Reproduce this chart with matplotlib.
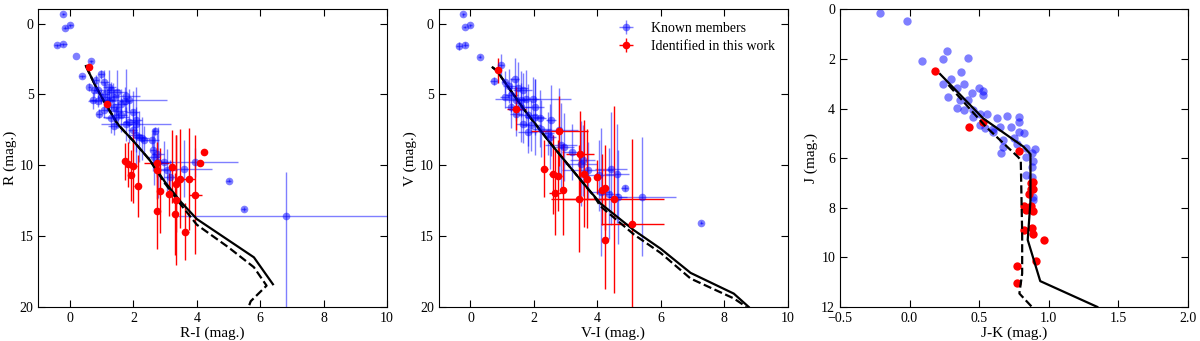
import numpy as np
import matplotlib
matplotlib.use('Agg')
from matplotlib import pyplot as plt

plt.rcParams['font.family'] = ['Liberation Serif', 'DejaVu Serif']
plt.rcParams['mathtext.fontset'] = 'stix'

# ---- panel 1: R vs R-I ----
r_known_x = [-0.21, -0.15, 0.0, -0.41, -0.21, 0.19, 0.66, 0.38, 0.6, 0.82, 0.97, 1.08, 1.24, 1.29, 1.48,
             1.76, 0.97, 0.87, 1.18, 1.39, 1.5, 0.92, 1.08, 1.29, 1.45, 2.07, 1.39, 1.76, 1.97, 2.07,
             1.97, 2.07, 2.18, 2.28, 2.33, 2.6, 2.67, 2.62, 2.65, 2.96, 2.77, 3.59, 3.93, 5.0, 5.48,
             6.8, 0.76, 0.71, 1.24, 1.6, 0.87, 1.1, 1.34, 1.6, 1.86, 1.73, 3.07, 3.15, 2.75, 1.85]
r_known_y = [-0.66, 0.28, 0.12, 1.53, 1.46, 2.28, 2.66, 3.72, 4.47, 4.0, 3.58, 4.1, 4.5, 4.7, 4.8,
             5.1, 5.2, 5.5, 5.4, 5.9, 6.2, 6.35, 6.1, 6.7, 6.6, 7.06, 7.2, 7.06, 6.24, 6.8,
             7.5, 7.9, 8.0, 8.1, 8.2, 8.2, 7.6, 8.94, 9.4, 9.8, 9.8, 10.24, 9.8, 11.08, 13.08,
             13.6, 4.7, 5.4, 5.5, 5.65, 4.7, 4.94, 5.18, 6.47, 6.94, 5.48, 10.35, 10.8, 9.2, 5.4]
r_known_xerr = [0.05, 0.08, 0.08, 0.1, 0.1, 0.0, 0.05, 0.1, 0.05, 0.1, 0.1, 0.15, 0.2, 0.3, 0.3,
                0.45, 0.1, 0.3, 0.2, 0.2, 0.3, 0.1, 0.2, 0.2, 0.4, 1.1, 0.2, 0.2, 0.2, 0.2,
                0.15, 0.2, 0.15, 0.2, 0.1, 0.2, 0.1, 0.1, 0.2, 0.3, 0.2, 0.9, 1.36, 0.08, 0.08,
                3.4, 0.1, 0.1, 0.2, 0.2, 0.1, 0.15, 0.2, 0.2, 0.2, 0.2, 0.3, 0.2, 0.2, 1.2]
r_known_yerr_up = [0.05, 0.1, 0.1, 0.1, 0.1, 0.0, 0.1, 0.1, 0.3, 0.4, 0.3, 0.8, 1.2, 0.6, 1.5,
                   1.9, 0.5, 0.4, 0.8, 1.0, 1.2, 0.3, 0.6, 1.0, 0.8, 0.8, 0.7, 1.2, 1.5, 2.3,
                   1.5, 2.0, 1.8, 1.5, 1.0, 0.5, 0.3, 1.5, 2.0, 1.5, 2.5, 2.0, 1.0, 0.1, 0.15,
                   3.1, 0.5, 0.6, 0.8, 1.0, 0.5, 0.8, 1.0, 1.2, 1.5, 1.0, 1.5, 1.2, 1.5, 0.8]
r_known_yerr_dn = [0.05, 0.1, 0.1, 0.1, 0.1, 0.0, 0.1, 0.1, 0.3, 0.4, 0.3, 0.8, 1.2, 0.6, 1.5,
                   1.9, 0.5, 0.4, 0.8, 1.0, 1.2, 0.3, 0.6, 1.0, 0.8, 0.8, 0.7, 1.2, 1.5, 2.3,
                   1.5, 2.0, 1.8, 1.5, 1.0, 0.5, 0.3, 1.5, 2.0, 1.5, 2.5, 2.0, 1.0, 0.1, 0.15,
                   7.0, 0.5, 0.6, 0.8, 1.0, 0.5, 0.8, 1.0, 1.2, 1.5, 1.0, 1.5, 1.2, 1.5, 0.8]

r_new_x = [0.61, 1.16, 4.24, 4.09, 3.95, 1.73, 1.84, 1.97, 1.92, 2.13, 2.73, 2.75, 2.84, 2.75,
           3.23, 3.12, 3.33, 3.47, 3.3, 3.35, 3.75, 3.64]
r_new_y = [3.06, 5.65, 9.06, 9.84, 12.1, 9.72, 9.93, 10.05, 10.7, 11.46, 9.81, 10.35, 11.8, 13.2,
           10.1, 12.05, 11.3, 10.94, 13.46, 12.47, 11.0, 14.7]
r_new_xerr = [0.05, 0.05, 0.05, 0.05, 0.2, 0.1, 0.1, 0.15, 0.1, 0.1, 0.4, 0.1, 0.1, 0.1,
              0.1, 0.1, 0.1, 0.1, 0.1, 0.1, 0.2, 0.1]
r_new_yerr = [0.1, 0.1, 0.1, 0.1, 4.2, 1.3, 1.6, 2.6, 1.8, 2.2, 1.0, 2.0, 3.0, 2.7,
              2.6, 1.5, 3.4, 3.5, 2.9, 4.6, 3.6, 2.0]

r_iso_x = [0.5, 0.8, 1.1, 1.5, 2.0, 2.5, 3.0, 3.5, 4.0, 5.0, 5.8, 6.4]
r_iso_y = [3.0, 4.4, 5.6, 7.1, 8.3, 9.6, 11.2, 12.6, 13.8, 15.3, 16.5, 18.4]
r_iso2_x = [0.5, 0.8, 1.1, 1.5, 2.0, 2.5, 3.0, 3.5, 4.0, 5.0, 5.8, 6.2, 5.7, 5.6]
r_iso2_y = [3.0, 4.4, 5.6, 7.1, 8.3, 9.6, 11.3, 12.8, 14.2, 15.8, 17.2, 18.5, 19.6, 20.2]

# ---- panel 2: V vs V-I ----
v_known_x = [-0.23, -0.18, 0.0, -0.36, -0.16, 0.29, 0.97, 0.73, 1.08, 1.23, 1.39, 1.5, 1.65, 1.29,
             1.08, 1.45, 1.76, 1.97, 2.02, 1.6, 1.29, 1.45, 1.81, 2.02, 2.18, 1.91, 1.65, 2.23,
             2.44, 2.54, 2.51, 2.8, 2.85, 2.96, 3.19, 3.48, 3.54, 3.69, 4.06, 4.42, 4.61, 4.11,
             4.37, 4.65, 4.86, 5.42, 7.28, 1.81, 1.6]
v_known_y = [-0.66, 0.24, 0.12, 1.58, 1.48, 2.35, 2.94, 4.05, 4.12, 4.42, 3.93, 4.52, 4.7, 5.06,
             5.18, 5.41, 5.3, 5.3, 5.88, 5.88, 5.88, 6.35, 6.47, 6.59, 6.7, 7.18, 7.06, 7.41,
             7.76, 6.82, 8.0, 7.53, 8.59, 8.7, 9.06, 9.88, 9.65, 10.35, 10.7, 10.24, 10.59, 11.88,
             12.0, 12.24, 11.6, 12.24, 14.05, 7.65, 5.41]
v_known_xerr = [0.05, 0.05, 0.05, 0.1, 0.08, 0.05, 0.1, 0.1, 0.1, 0.2, 0.15, 0.3, 0.3, 0.2,
                0.15, 0.3, 0.4, 1.2, 0.3, 0.3, 0.2, 0.2, 0.3, 0.3, 0.2, 0.3, 0.2, 0.3,
                0.2, 0.15, 0.2, 0.6, 0.5, 0.3, 0.3, 0.5, 0.4, 0.8, 0.5, 0.5, 0.4, 0.3,
                0.3, 0.3, 0.1, 1.05, 0.05, 0.3, 0.2]
v_known_yerr = [0.1, 0.1, 0.1, 0.3, 0.2, 0.1, 0.8, 0.3, 0.8, 1.2, 1.5, 1.8, 1.2, 1.2,
                0.8, 1.5, 2.0, 1.5, 2.0, 2.5, 1.5, 1.6, 2.2, 2.7, 2.0, 1.8, 1.4, 2.0,
                1.5, 2.5, 2.3, 3.0, 3.0, 2.4, 2.0, 3.0, 2.5, 2.0, 2.5, 4.0, 3.5, 4.5,
                3.2, 3.3, 0.2, 4.2, 0.1, 1.5, 1.2]

v_new_x = [0.87, 1.44, 2.8, 3.46, 2.33, 2.59, 2.75, 3.59, 3.67, 4.0, 4.24, 4.16, 2.67, 2.91,
           3.43, 4.51, 5.1, 4.24]
v_new_y = [3.3, 6.0, 7.58, 9.18, 10.24, 10.64, 10.75, 10.59, 10.94, 10.82, 11.6, 11.72, 11.95, 11.72,
           12.35, 12.4, 14.12, 15.25]
v_new_xerr = [0.1, 0.3, 0.9, 0.45, 0.1, 0.1, 0.15, 0.1, 0.1, 0.1, 0.1, 0.1, 0.2, 0.1,
              0.9, 1.6, 1.0, 0.1]
v_new_yerr = [0.9, 1.5, 2.5, 3.0, 2.0, 2.8, 2.5, 3.8, 3.5, 1.2, 3.0, 2.5, 3.0, 3.2,
              3.8, 6.6, 6.0, 3.5]

v_iso_x = [0.7, 0.82, 1.7, 2.54, 3.48, 4.1, 5.16, 6.0, 6.94, 8.3, 8.77]
v_iso_y = [3.1, 3.3, 6.1, 8.5, 11.06, 12.7, 14.6, 15.9, 17.6, 19.06, 20.0]
v_iso2_x = [0.7, 0.82, 1.7, 2.54, 3.48, 3.9, 4.1, 5.16, 6.0, 6.94, 8.3, 8.7]
v_iso2_y = [3.1, 3.3, 6.1, 8.5, 11.06, 12.2, 12.9, 14.9, 16.2, 18.0, 19.4, 20.0]

# ---- panel 3: J vs J-K ----
j_known_x = [-0.21, -0.02, 0.27, 0.24, 0.42, 0.09, 0.37, 0.3, 0.39, 0.5, 0.53, 0.53, 0.45, 0.34,
             0.28, 0.36, 0.42, 0.39, 0.46, 0.51, 0.56, 0.63, 0.7, 0.79, 0.79, 0.65, 0.73, 0.79,
             0.82, 0.6, 0.54, 0.51, 0.46, 0.67, 0.75, 0.67, 0.77, 0.84, 0.9, 0.88, 0.84, 0.89,
             0.88, 0.84, 0.88, 0.89, 0.89, 0.66, 0.6, 0.34, 0.24]
j_known_y = [0.13, 0.46, 1.68, 2.0, 1.95, 2.09, 2.53, 2.8, 3.0, 3.19, 3.28, 3.46, 3.39, 3.19,
             3.55, 3.66, 3.66, 4.06, 4.06, 4.2, 4.2, 4.4, 4.3, 4.33, 4.53, 4.74, 4.76, 4.94,
             5.0, 4.84, 4.8, 4.67, 4.33, 5.27, 5.2, 5.54, 5.44, 5.61, 5.65, 5.81, 5.95, 6.1,
             6.35, 6.69, 6.75, 7.56, 7.7, 5.81, 4.93, 3.96, 2.99]

j_new_x = [0.18, 0.43, 0.53, 0.79, 0.87, 0.89, 0.87, 0.89, 0.86, 0.82, 0.84, 0.89, 0.87, 0.88,
           0.82, 0.89, 0.97, 0.91, 0.77, 0.77]
j_new_y = [2.49, 4.76, 4.56, 5.72, 7.0, 6.95, 7.26, 7.26, 7.45, 7.92, 8.1, 8.13, 7.92, 8.8,
           8.9, 9.07, 9.31, 10.16, 10.36, 11.03]

j_iso_x = [0.22, 0.53, 0.82, 0.87, 0.87, 0.85, 0.94, 1.35]
j_iso_y = [2.61, 4.4, 5.54, 5.84, 7.7, 9.3, 10.96, 12.0]
j_iso2_x = [0.28, 0.55, 0.78, 0.8, 0.81, 0.81, 0.79, 0.88]
j_iso2_y = [3.05, 4.74, 5.95, 6.08, 9.04, 10.65, 11.46, 12.0]

blue = (0.0, 0.0, 1.0, 0.5)
red = 'red'

fig = plt.figure(figsize=(12, 3.41), dpi=100)


def style_axes(ax, xlabel, ylabel):
    ax.tick_params(direction='in', top=True, right=True, length=5, labelsize=10)
    ax.set_xlabel(xlabel, fontsize=11, labelpad=1)
    ax.set_ylabel(ylabel, fontsize=11, labelpad=2)


ax1 = fig.add_axes([0.032, 0.1, 0.2905, 0.8725])
ax1.errorbar(r_known_x, r_known_y, xerr=r_known_xerr, yerr=[r_known_yerr_up, r_known_yerr_dn],
             fmt='o', color=blue, ecolor=blue, ms=5.5, mew=0, capsize=3, elinewidth=1)
ax1.errorbar(r_new_x, r_new_y, xerr=r_new_xerr, yerr=r_new_yerr,
             fmt='o', color=red, ecolor=red, ms=5.5, mew=0, capsize=3, elinewidth=1)
ax1.plot(r_iso_x, r_iso_y, 'k-', lw=1.6)
ax1.plot(r_iso2_x, r_iso2_y, 'k--', lw=1.6)
ax1.set_xlim(-1, 10)
ax1.set_ylim(20, -1)
ax1.set_xticks([0, 2, 4, 6, 8, 10])
ax1.set_yticks([0, 5, 10, 15, 20])
style_axes(ax1, 'R-I (mag.)', 'R (mag.)')

ax2 = fig.add_axes([0.3656, 0.1, 0.2908, 0.8725])
ax2.errorbar(v_known_x, v_known_y, xerr=v_known_xerr, yerr=v_known_yerr,
             fmt='o', color=blue, ecolor=blue, ms=5.5, mew=0, capsize=3, elinewidth=1,
             label='Known members')
ax2.errorbar(v_new_x, v_new_y, xerr=v_new_xerr, yerr=v_new_yerr,
             fmt='o', color=red, ecolor=red, ms=5.5, mew=0, capsize=3, elinewidth=1,
             label='Identified in this work')
ax2.plot(v_iso_x, v_iso_y, 'k-', lw=1.6)
ax2.plot(v_iso2_x, v_iso2_y, 'k--', lw=1.6)
ax2.set_xlim(-1, 10)
ax2.set_ylim(20, -1)
ax2.set_xticks([0, 2, 4, 6, 8, 10])
ax2.set_yticks([0, 5, 10, 15, 20])
style_axes(ax2, 'V-I (mag.)', 'V (mag.)')
ax2.legend(loc='upper right', frameon=False, numpoints=1, fontsize=10, handlelength=1.0,
           handletextpad=1.3, labelspacing=0.35)

ax3 = fig.add_axes([0.70, 0.1, 0.2897, 0.8725])
ax3.plot(j_known_x, j_known_y, 'o', color=blue, ms=6, mew=0)
ax3.plot(j_new_x, j_new_y, 'o', color=red, ms=6, mew=0)
ax3.plot(j_iso_x, j_iso_y, 'k-', lw=1.6)
ax3.plot(j_iso2_x, j_iso2_y, 'k--', lw=1.6)
ax3.set_xlim(-0.5, 2.0)
ax3.set_ylim(12, 0)
ax3.set_xticks([-0.5, 0.0, 0.5, 1.0, 1.5, 2.0])
ax3.set_yticks([0, 2, 4, 6, 8, 10, 12])
style_axes(ax3, 'J-K (mag.)', 'J (mag.)')

fig.savefig('out.png', dpi=100)
